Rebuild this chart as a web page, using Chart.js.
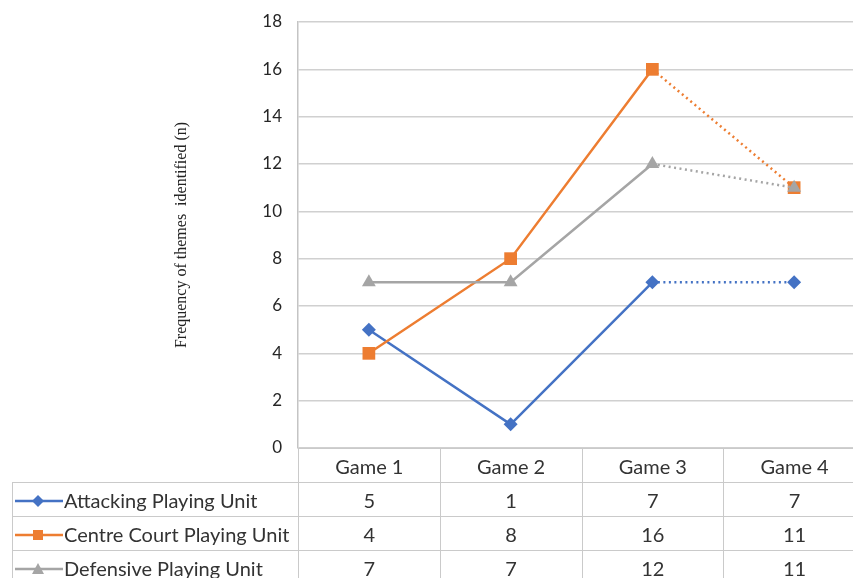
<!DOCTYPE html>
<html>
<head>
<meta charset="utf-8">
<script src="https://cdn.jsdelivr.net/npm/chart.js@4"></script>
<style>
    html, body { margin: 0; padding: 0; background: #fff; overflow: hidden; width: 853px; height: 578px; }
    #wrap { position: relative; width: 880px; height: 578px; }
    #chart { position: absolute; left: 0; top: 0; }
    #data-table { position: absolute; border-collapse: collapse; table-layout: fixed;
        font-family: Lato, "Open Sans", sans-serif; font-size: 20px; color: #333; }
    #data-table td { border: 1.5px solid #cacaca; text-align: center; padding: 0; height: 33px; white-space: nowrap; overflow: hidden; }
    #data-table td.blank { border: none; }
    #data-table td.name { text-align: left; padding-left: 2px; }
    #data-table svg { vertical-align: middle; margin-right: 1px; position: relative; top: -1px; }
</style>
</head>
<body>
<div id="wrap">
    <canvas id="chart" width="874" height="578"></canvas>
    <table id="data-table"></table>
</div>
<script>
const games = ['Game 1', 'Game 2', 'Game 3', 'Game 4'];
const seriesNames = ['Attacking Playing Unit', 'Centre Court Playing Unit', 'Defensive Playing Unit'];
const attacking = [5, 1, 7, 7];
const centreCourt = [4, 8, 16, 11];
const defensive = [7, 7, 12, 11];
const yMin = 0, yMax = 18, yStep = 2;
const yTitle = 'Frequency of themes  identified (n)';

const COLORS = { blue: '#4472C4', orange: '#ED7D31', gray: '#A5A5A5', grid: '#d0d0d0', text: '#262626' };

// Game 3 -> Game 4 is drawn dotted
const dottedLast = ctx => ctx.p0DataIndex === games.length - 2 ? [2, 3.5] : undefined;

const seriesList = [
    { name: seriesNames[0], data: attacking, color: COLORS.blue, shape: 'rectRot', radius: 7 },
    { name: seriesNames[1], data: centreCourt, color: COLORS.orange, shape: 'rect', radius: 9 },
    { name: seriesNames[2], data: defensive, color: COLORS.gray, shape: 'triangle', radius: 8 }
];

const chart = new Chart(document.getElementById('chart'), {
    type: 'line',
    data: {
        labels: games,
        datasets: seriesList.map((s, i) => ({
            label: s.name,
            data: s.data,
            borderColor: s.color,
            backgroundColor: s.color,
            borderWidth: 2.5,
            pointStyle: s.shape,
            pointRadius: s.radius,
            pointBorderWidth: 0,
            tension: 0,
            order: seriesList.length - i,
            segment: { borderDash: dottedLast }
        }))
    },
    options: {
        responsive: false,
        animation: false,
        layout: { padding: { left: 0, right: 0, top: 22, bottom: 130 } },
        plugins: { legend: { display: false }, tooltip: { enabled: false } },
        scales: {
            x: { type: 'category', offset: true, display: false },
            y: {
                min: yMin, max: yMax,
                afterFit: s => { s.width = 298; s.paddingTop = 0; s.paddingBottom = 0; },
                ticks: { stepSize: yStep, padding: 16, color: COLORS.text,
                    font: { family: 'Lato', size: 17 } },
                grid: { color: COLORS.grid, lineWidth: 1.5, drawTicks: false },
                border: { display: true, color: '#c4c4c4', width: 1.5 },
                title: { display: true, text: yTitle, color: '#222',
                    font: { family: 'Liberation Serif', size: 16 }, padding: { top: 172, bottom: 0 } }
            }
        }
    }
});

function markerSvg(s) {
    let shape = '';
    if (s.shape === 'rectRot') shape = `<polygon points="23,2 29,8 23,14 17,8" fill="${s.color}"/>`;
    else if (s.shape === 'rect') shape = `<rect x="18" y="3" width="10" height="10" fill="${s.color}"/>`;
    else shape = `<polygon points="23,2 29,13 17,13" fill="${s.color}"/>`;
    return `<svg width="48" height="16"><line x1="0" y1="8" x2="48" y2="8" stroke="${s.color}" stroke-width="2.5"/>${shape}</svg>`;
}

// Data table under the plot, columns taken from the chart's x scale
function buildTable() {
    const area = chart.chartArea;
    const xs = chart.scales.x;
    const px = games.map((g, i) => xs.getPixelForValue(i));
    const edges = [area.left];
    for (let i = 0; i < px.length - 1; i++) edges.push((px[i] + px[i + 1]) / 2);
    edges.push(area.right);

    const table = document.getElementById('data-table');
    const left = 12;
    table.style.left = left + 'px';
    table.style.top = area.bottom + 'px';
    table.style.width = (area.right - left) + 'px';

    let html = '<colgroup><col style="width:' + (area.left - left) + 'px">';
    for (let i = 0; i < games.length; i++) html += '<col style="width:' + (edges[i + 1] - edges[i]) + 'px">';
    html += '</colgroup>';
    html += '<tr><td class="blank"></td>' + games.map(g => `<td>${g}</td>`).join('') + '</tr>';
    seriesList.forEach(s => {
        html += `<tr><td class="name">${markerSvg(s)}${s.name}</td>` + s.data.map(v => `<td>${v}</td>`).join('') + '</tr>';
    });
    table.innerHTML = html;
}
buildTable();
</script>
</body>
</html>
